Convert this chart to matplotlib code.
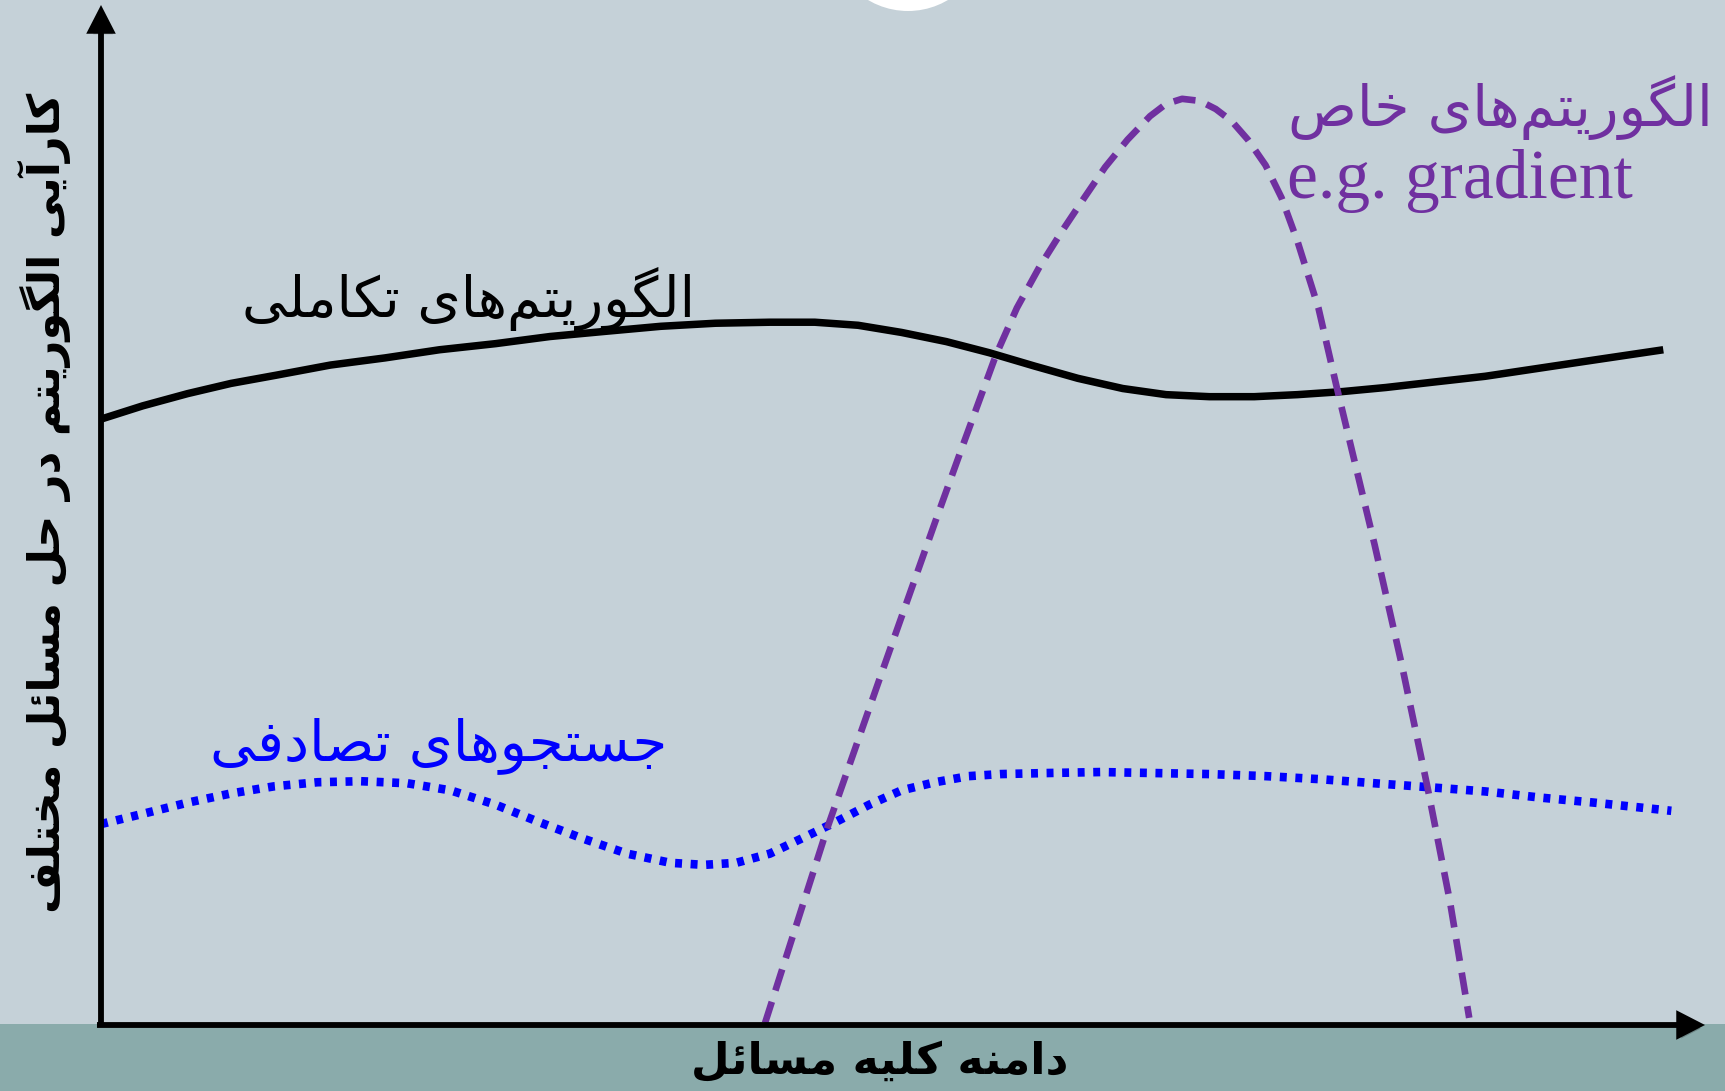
import matplotlib
matplotlib.use("Agg")
import matplotlib.pyplot as plt
import matplotlib.patheffects as pe
from matplotlib.patches import Rectangle, Circle, FancyArrowPatch

plt.rcParams["lines.scale_dashes"] = False

# ---------------------------------------------------------------- data
# problem domain (0-100) vs. algorithm performance (0-100)
evo_x = [0.0, 2.6, 5.4, 8.1, 10.9, 14.3, 17.7, 21.1, 24.6, 28.0, 31.4,
         34.9, 38.3, 41.7, 44.5, 47.2, 49.9, 52.7, 55.4, 58.2, 60.9, 63.7,
         66.4, 69.1, 71.9, 74.6, 77.4, 80.1, 82.9, 86.3, 89.7, 93.1, 97.4]
evo_y = [59.4, 60.7, 61.9, 62.9, 63.7, 64.7, 65.4, 66.2, 66.8, 67.5, 68.0,
         68.5, 68.8, 68.9, 68.9, 68.6, 67.9, 67.0, 65.9, 64.6, 63.4, 62.4,
         61.8, 61.6, 61.6, 61.8, 62.1, 62.5, 63.0, 63.6, 64.4, 65.2, 66.2]

spec_x = [41.4, 45.3, 48.6, 52.0, 53.7, 55.8, 57.1, 58.5, 59.9, 61.3, 62.6,
          64.0, 65.4, 66.4, 67.4, 68.5, 69.5, 70.5, 71.5, 72.6, 73.6, 74.6,
          75.9, 77.0, 79.4, 81.1, 82.7, 84.1, 85.3]
spec_y = [0.2, 19.4, 34.2, 49.3, 56.7, 65.7, 70.3, 74.3, 77.8, 81.1, 84.1,
          86.8, 89.1, 90.3, 90.8, 90.6, 89.8, 88.6, 86.8, 84.3, 81.1, 76.8,
          70.3, 62.8, 47.1, 35.3, 23.3, 12.1, 0.7]

rand_x = [0.0, 2.6, 5.4, 8.1, 10.8, 13.5, 16.2, 19.1, 21.8, 24.6, 27.3,
          30.0, 32.8, 35.5, 37.6, 39.6, 41.7, 43.7, 45.8, 47.9, 49.9, 52.0,
          54.1, 56.1, 58.9, 62.3, 65.7, 69.1, 72.6, 76.0, 79.4, 82.9, 86.3,
          89.7, 93.1, 97.9]
rand_y = [19.7, 20.7, 21.8, 22.7, 23.4, 23.8, 23.9, 23.7, 23.0, 21.6, 19.9,
          18.3, 16.8, 15.9, 15.7, 15.9, 16.8, 18.3, 19.9, 21.6, 23.0, 23.8,
          24.4, 24.6, 24.7, 24.8, 24.7, 24.6, 24.4, 24.1, 23.7, 23.3, 22.9,
          22.3, 21.8, 21.0]

label_evo = "الگوریتم‌های تکاملی"
label_rand = "جستجوهای تصادفی"
label_spec = "الگوریتم‌های خاص"
label_spec_en = "e.g. gradient"
xlabel = "دامنه کلیه مسائل"
ylabel = "کارآیی الگوریتم در حل مسائل مختلف"

BG = "#c5d1d8"
BAND = "#8aabab"
PURPLE = "#7030a0"
BLUE = "#0000ff"

# ---------------------------------------------------------------- shaping
# presentation forms: isolated, final, initial, medial
FORMS = {
    "\u0622": ("\uFE81", "\uFE82", None, None),
    "\u0626": ("\uFE89", "\uFE8A", "\uFE8B", "\uFE8C"),
    "\u0627": ("\uFE8D", "\uFE8E", None, None),
    "\u062A": ("\uFE95", "\uFE96", "\uFE97", "\uFE98"),
    "\u062C": ("\uFE9D", "\uFE9E", "\uFE9F", "\uFEA0"),
    "\u062D": ("\uFEA1", "\uFEA2", "\uFEA3", "\uFEA4"),
    "\u062E": ("\uFEA5", "\uFEA6", "\uFEA7", "\uFEA8"),
    "\u062F": ("\uFEA9", "\uFEAA", None, None),
    "\u0631": ("\uFEAD", "\uFEAE", None, None),
    "\u0633": ("\uFEB1", "\uFEB2", "\uFEB3", "\uFEB4"),
    "\u0635": ("\uFEB9", "\uFEBA", "\uFEBB", "\uFEBC"),
    "\u0641": ("\uFED1", "\uFED2", "\uFED3", "\uFED4"),
    "\u0644": ("\uFEDD", "\uFEDE", "\uFEDF", "\uFEE0"),
    "\u0645": ("\uFEE1", "\uFEE2", "\uFEE3", "\uFEE4"),
    "\u0646": ("\uFEE5", "\uFEE6", "\uFEE7", "\uFEE8"),
    "\u0647": ("\uFEE9", "\uFEEA", "\uFEEB", "\uFEEC"),
    "\u0648": ("\uFEED", "\uFEEE", None, None),
    "\u06A9": ("\uFB8E", "\uFB8F", "\uFB90", "\uFB91"),
    "\u06AF": ("\uFB92", "\uFB93", "\uFB94", "\uFB95"),
    "\u06CC": ("\uFBFC", "\uFBFD", "\uFBFE", "\uFBFF"),
}


def shape(text):
    """Pick contextual letter forms and return the string in visual order."""
    out = []
    for i, ch in enumerate(text):
        if ch not in FORMS:
            if ch != "\u200c":
                out.append(ch)
            continue
        iso, fin, ini, med = FORMS[ch]
        prev = text[i - 1] if i > 0 else None
        nxt = text[i + 1] if i + 1 < len(text) else None
        join_prev = prev in FORMS and FORMS[prev][2] is not None
        join_next = ini is not None and nxt in FORMS
        if join_prev and join_next:
            out.append(med)
        elif join_prev:
            out.append(fin)
        elif join_next:
            out.append(ini)
        else:
            out.append(iso)
    return "".join(reversed(out))


# ---------------------------------------------------------------- figure
W, H = 1725, 1091
fig = plt.figure(figsize=(W / 100, H / 100), dpi=100, facecolor=BG)


def px(x, y):
    return x / W, 1 - y / H


# backdrop: footer band and the white disc at the top edge
bg = fig.add_axes([0, 0, 1, 1])
bg.set_xlim(0, W)
bg.set_ylim(H, 0)
bg.axis("off")
bg.add_patch(Rectangle((0, 1024), W, H - 1024, color=BAND, lw=0))
bg.add_patch(Circle((908, -67), 78, color="white", lw=0))

# plotting area: origin at the corner of the two arrows
ax = fig.add_axes([101 / W, (H - 1025) / H, 1604 / W, 1020 / H])
ax.set_xlim(0, 100)
ax.set_ylim(0, 100)
ax.axis("off")
ax.patch.set_alpha(0)

shadow = [pe.SimplePatchShadow(offset=(1.5, -2.5), alpha=0.22,
                               shadow_rgbFace="k"), pe.Normal()]
for a, b in [((-0.25, 0), (100, 0)), ((0, 0), (0, 100))]:
    arr = FancyArrowPatch(a, b, arrowstyle="-|>,head_length=0.7,head_width=0.36",
                          mutation_scale=20, lw=4.2, color="black",
                          shrinkA=0, shrinkB=0, joinstyle="miter",
                          capstyle="butt", zorder=5, clip_on=False)
    arr.set_path_effects(shadow)
    ax.add_patch(arr)

ax.plot(evo_x, evo_y, color="black", lw=5.4, solid_capstyle="butt",
        solid_joinstyle="round", zorder=3, clip_on=False)
ax.plot(spec_x, spec_y, color=PURPLE, lw=4.8, dashes=(16, 8.5),
        dash_capstyle="butt", dash_joinstyle="round", zorder=4, clip_on=False)
ax.plot(rand_x, rand_y, color=BLUE, lw=6.2, dashes=(5, 6.2),
        dash_capstyle="butt", zorder=3, clip_on=False)

# ---------------------------------------------------------------- text
persian = ["DejaVu Sans"]
fig.text(*px(468, 299), shape(label_evo), color="black", fontsize=40,
         family=persian, ha="center", va="center")
fig.text(*px(439, 746), shape(label_rand), color=BLUE, fontsize=40.5,
         family=persian, ha="center", va="center")
fig.text(*px(1500, 108), shape(label_spec), color=PURPLE, fontsize=41,
         family=persian, ha="center", va="center")
fig.text(*px(1287, 181), label_spec_en, color=PURPLE, fontsize=50,
         family=["Liberation Serif"], ha="left", va="center")
fig.text(*px(880, 1061), shape(xlabel), color="black", fontsize=32,
         fontweight="bold", family=persian, ha="center", va="center")
fig.text(*px(44, 503), shape(ylabel), color="black", fontsize=32,
         fontweight="bold", family=persian, ha="center", va="center",
         rotation=90)

fig.savefig("out.png", dpi=100, facecolor=BG)
